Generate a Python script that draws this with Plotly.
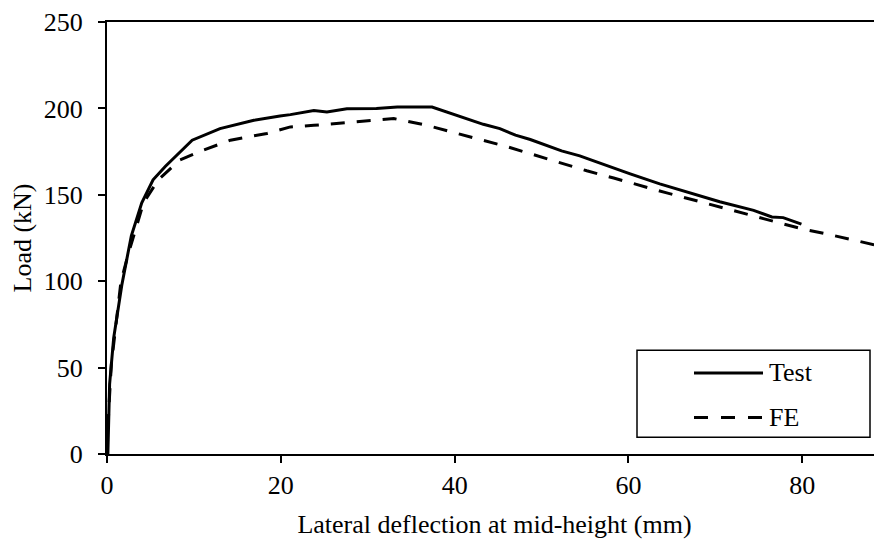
import plotly.graph_objects as go

# ---- data ----
test_x = [0, 0.1, 0.3, 0.77, 1.7, 2.8, 4.0, 5.3, 6.7, 8.2, 9.8, 13.0, 16.9, 19.9, 21.1, 23.8,
          25.3, 27.6, 31.0, 33.4, 37.4, 43.3, 45.2, 47.0, 48.7, 52.3, 54.4, 56.0, 57.9,
          60.2, 63.6, 67.1, 70.5, 74.4, 76.5, 77.8, 79.9]
test_y = [0, 0, 40.5, 67.2, 97.7, 126.3, 145.4, 158.7, 166.4, 174.0, 181.6, 188.3, 193.1,
          195.6, 196.4, 198.8, 197.9, 199.8, 200.0, 200.8, 200.8, 190.8, 188.3, 184.5,
          182.0, 175.4, 172.5, 169.6, 166.4, 162.1, 156.3, 151.1, 146.0, 141.0, 137.2,
          136.8, 133.0]

fe_x = [0, 0.2, 0.5, 1.26, 1.6, 2.4, 4.2, 5.9, 8.4, 11.1, 14.2, 18.4, 21.1, 23.8, 27.2,
        30.3, 33.0, 36.8, 39.7, 42.9, 46.0, 49.1, 52.1, 55.2, 58.3, 61.3, 64.4, 67.5,
        70.5, 73.6, 77.1, 80.1, 83.2, 86.3, 89.2]
fe_y = [0, 25.2, 51.9, 84.3, 99.6, 114.9, 145.4, 158.7, 170.2, 175.9, 181.6, 185.5, 189.3,
        190.2, 191.6, 193.1, 194.1, 190.2, 186.5, 182.0, 177.9, 173.1, 168.3, 163.9,
        159.7, 155.3, 151.1, 147.0, 142.9, 138.7, 134.0, 130.1, 126.9, 123.5, 120.0]

series_names = ["Test", "FE"]
x_ticks = [0, 20, 40, 60, 80]
y_ticks = [0, 50, 100, 150, 200, 250]

x_title = "Lateral deflection at mid-height (mm)"
y_title = "Load (kN)"

FONT = "Liberation Serif, Times New Roman, serif"
DASH = "14px,12px"

fig = go.Figure()
fig.add_trace(go.Scatter(x=test_x, y=test_y, mode="lines", name=series_names[0],
                         line=dict(color="black", width=3), showlegend=False))
fig.add_trace(go.Scatter(x=fe_x, y=fe_y, mode="lines", name=series_names[1],
                         line=dict(color="black", width=3, dash=DASH), showlegend=False))

# page body has an 8px margin, so the figure is made 8px smaller and shifted back
OFF = 8
W, H = 882 - OFF, 545 - OFF
L, R, T, B = 107 - OFF, 0, 17 - OFF, 91
pw, ph = W - L - R, H - T - B


def px(xp):
    return (xp - OFF - L) / pw


def py(yp):
    return (H - B - (yp - OFF)) / ph


# legend box (drawn as decoration)
shapes = [
    dict(type="rect", xref="paper", yref="paper", x0=px(637), x1=px(870), y0=py(437), y1=py(349),
         line=dict(color="black", width=1.5), fillcolor="white", layer="above"),
    dict(type="line", xref="paper", yref="paper", x0=px(694), x1=px(763), y0=py(372), y1=py(372),
         line=dict(color="black", width=3), layer="above"),
    dict(type="line", xref="paper", yref="paper", x0=px(694), x1=px(763), y0=py(417), y1=py(417),
         line=dict(color="black", width=3, dash="14px,13px"), layer="above"),
]
annotations = [
    dict(xref="paper", yref="paper", x=px(767), y=py(372), text=series_names[0], showarrow=False,
         xanchor="left", yanchor="middle", font=dict(family=FONT, size=26, color="black")),
    dict(xref="paper", yref="paper", x=px(767), y=py(417), text=series_names[1], showarrow=False,
         xanchor="left", yanchor="middle", font=dict(family=FONT, size=26, color="black")),
]

fig.update_layout(
    width=W, height=H,
    margin=dict(l=L, r=R, t=T, b=B, pad=0),
    paper_bgcolor="white", plot_bgcolor="white",
    font=dict(family=FONT, size=26, color="black"),
    showlegend=False,
    shapes=shapes,
    annotations=annotations,
    xaxis=dict(range=[0, 89.17], tickvals=x_ticks, ticks="outside", ticklen=7, tickwidth=2,
               tickcolor="black", showline=True, linecolor="black", linewidth=2, mirror=True,
               showgrid=False, zeroline=False, ticklabeloverflow="allow",
               title=dict(text=x_title, font=dict(family=FONT, size=26), standoff=16),
               tickfont=dict(family=FONT, size=26)),
    yaxis=dict(range=[0, 250], tickvals=y_ticks, ticks="outside", ticklen=7, tickwidth=2,
               tickcolor="black", showline=True, linecolor="black", linewidth=2, mirror=False,
               showgrid=False, zeroline=False, ticklabelstandoff=10, ticklabeloverflow="allow",
               title=dict(text=y_title, font=dict(family=FONT, size=26), standoff=8),
               tickfont=dict(family=FONT, size=26)),
)

fig.write_html("out.html")
